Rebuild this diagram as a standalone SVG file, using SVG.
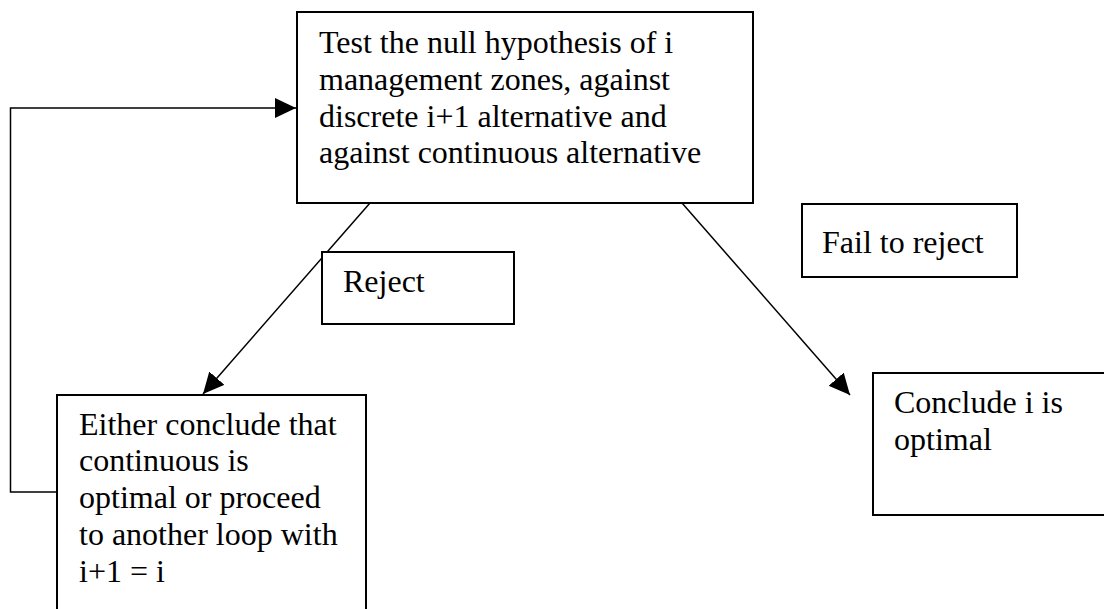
<svg xmlns="http://www.w3.org/2000/svg" width="1104" height="609" viewBox="0 0 1104 609">
<style>
.box{fill:#fff;stroke:#000;stroke-width:2}
.ln{fill:none;stroke:#000;stroke-width:1.5}
text{font-family:"Liberation Serif","Times New Roman",serif;font-size:32px;fill:#000}
</style>
<defs>
<marker id="arr" markerWidth="22" markerHeight="22" refX="21" refY="10" orient="auto" markerUnits="userSpaceOnUse">
<path d="M0,0 L21,10 L0,20 z" fill="#000"/>
</marker>
</defs>
<rect width="1104" height="609" fill="#fff"/>
<g id="connectors">
<polyline class="ln" points="57,492 10.5,492 10.5,108 296,108" marker-end="url(#arr)"/>
<line class="ln" x1="370" y1="203" x2="203" y2="394" marker-end="url(#arr)"/>
<line class="ln" x1="682" y1="203" x2="850" y2="395" marker-end="url(#arr)"/>
</g>
<g id="test">
<rect class="box" x="297" y="12" width="456" height="191"/>
<text x="319" y="53">Test the null hypothesis of i</text>
<text x="319" y="90">management zones, against</text>
<text x="319" y="127">discrete i+1 alternative and</text>
<text x="319" y="163">against continuous alternative</text>
</g>
<g id="reject">
<rect class="box" x="322" y="252" width="192" height="72"/>
<text x="343" y="292">Reject</text>
</g>
<g id="fail">
<rect class="box" x="802" y="204" width="215" height="73"/>
<text x="822" y="253">Fail to reject</text>
</g>
<g id="either">
<rect class="box" x="57" y="395" width="309" height="250"/>
<text x="79" y="435">Either conclude that</text>
<text x="79" y="471">continuous is</text>
<text x="79" y="508">optimal or proceed</text>
<text x="79" y="545">to another loop with</text>
<text x="79" y="582">i+1 = i</text>
</g>
<g id="conclude">
<rect class="box" x="873" y="373" width="260" height="142"/>
<text x="894" y="413">Conclude i is</text>
<text x="894" y="450">optimal</text>
</g>
</svg>
